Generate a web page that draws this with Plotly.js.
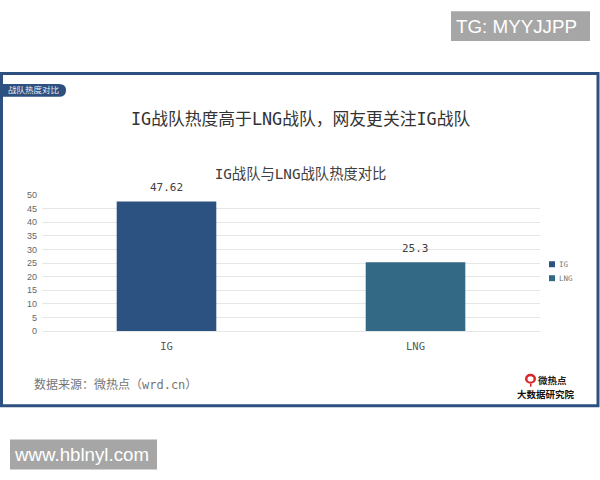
<!DOCTYPE html>
<html>
<head>
<meta charset="utf-8">
<script src="https://cdn.plot.ly/plotly-3.0.1.min.js"></script>
<style>html,body{margin:0;padding:0;background:#fff}</style>
</head>
<body>
<div id="chart" style="width:600px;height:480px"></div>
<script>
const categories = ["IG", "LNG"];
const values = [47.62, 25.3];
const valueLabels = ["47.62", "25.3"];
const barColors = ["#2c5282", "#336985"];
const yTicks = [0, 5, 10, 15, 20, 25, 30, 35, 40, 45, 50];
const chartTitle = "IG战队与LNG战队热度对比";
const headline = "IG战队热度高于LNG战队，网友更关注IG战队";
const tagText = "战队热度对比";
const sourceText = "数据来源：微热点（wrd.cn）";
const logoLines = ["微热点", "大数据研究院"];
const watermarks = ["TG: MYYJJPP", "www.hblnyl.com"];

const W = 600, H = 480;
const m = {l: 42, r: 60, t: 194.5, b: 149};
const px = x => (x - m.l) / (W - m.l - m.r);
const py = y => 1 - (y - m.t) / (H - m.t - m.b);
const FONT = '"DejaVu Sans Mono","Noto Sans CJK SC",monospace';
const FRAME = "#2d5080";

const rect = (x0, y0, x1, y1, fill, extra) => Object.assign({
  type: "rect", xref: "paper", yref: "paper",
  x0: px(x0), x1: px(x1), y0: py(y0), y1: py(y1),
  fillcolor: fill, line: {width: 0}, layer: "below"
}, extra || {});

const label = (x, y, text, size, color, anchor, family, weight) => ({
  xref: "paper", yref: "paper", x: px(x), y: py(y), text: text,
  showarrow: false, xanchor: anchor || "center", yanchor: "middle", borderpad: 0,
  font: {family: family || FONT, size: size, color: color, weight: weight || 400}
});

const traces = categories.map((c, i) => ({
  type: "bar", name: c, x: [c], y: [values[i]], width: 0.4,
  marker: {color: barColors[i]}, hoverinfo: "x+y"
}));

const shapes = [
  rect(1.5, 72.5, 598, 406, "rgba(0,0,0,0)", {line: {color: FRAME, width: 3}}),
  {type: "path", xref: "paper", yref: "paper", layer: "above", fillcolor: FRAME, line: {width: 0},
   path: `M ${px(3)} ${py(83)} L ${px(59)} ${py(83)} Q ${px(66)} ${py(83)} ${px(66)} ${py(89.5)} Q ${px(66)} ${py(96)} ${px(59)} ${py(96)} L ${px(3)} ${py(96)} Z`},
  rect(549, 261, 555, 267, barColors[0], {layer: "above"}),
  rect(549, 275, 555, 281, barColors[1], {layer: "above"}),
  rect(451, 10, 590, 40, "#a6a6a6"),
  rect(10, 440, 157, 470, "#a6a6a6"),
  {type: "circle", xref: "paper", yref: "paper", layer: "above", fillcolor: "#d9252a", line: {width: 0},
   x0: px(525), x1: px(536), y0: py(374), y1: py(384)},
  {type: "circle", xref: "paper", yref: "paper", layer: "above", fillcolor: "#ffffff", line: {width: 0},
   x0: px(527.5), x1: px(533.5), y0: py(376.5), y1: py(382)},
  rect(530, 384, 531.5, 387, "#d9252a", {layer: "above"})
];

const CJK = '"Noto Sans CJK SC"';
const SANS = '"Liberation Sans"';
const annotations = [
  label(300, 118, headline, 16.8, "#333333"),
  label(7, 89.5, tagText, 8.5, "#e8eef5", "left"),
  label(33, 385, sourceText, 12, "#757575", "left"),
  label(558, 264, categories[0], 7.5, "#777777", "left"),
  label(558, 278, categories[1], 7.5, "#777777", "left"),
  label(552, 380, logoLines[0], 9.5, "#222222", "center", CJK, 700),
  label(546, 394, logoLines[1], 9.5, "#111111", "center", CJK, 700),
  label(516, 25, watermarks[0], 18.8, "#ffffff", "center", SANS),
  label(81, 455, watermarks[1], 18.7, "#ffffff", "center", SANS)
].concat(categories.map((c, i) => ({
  xref: "x", yref: "y", x: c, y: values[i], text: valueLabels[i],
  showarrow: false, yanchor: "bottom", yshift: 5,
  font: {family: FONT, size: 11, color: "#404040"}
})));

const layout = {
  width: W, height: H,
  paper_bgcolor: "#ffffff", plot_bgcolor: "#ffffff",
  margin: m, showlegend: false, barmode: "overlay", bargap: 0.6,
  font: {family: FONT},
  title: {text: chartTitle, font: {family: FONT, size: 14.3, color: "#404040"},
          x: 300.5 / W, xanchor: "center", xref: "container", y: 1 - 174 / H, yanchor: "middle"},
  xaxis: {type: "category", categoryorder: "array", categoryarray: categories,
          showline: false, showgrid: false, zeroline: false, ticks: "",
          tickfont: {family: FONT, size: 10.5, color: "#595959"}, ticklabelstandoff: 7},
  yaxis: {range: [0, 50], tickmode: "array", tickvals: yTicks, ticktext: yTicks.map(String),
          showgrid: true, gridcolor: "#e6e6e6", gridwidth: 1, zeroline: true, zerolinecolor: "#e6e6e6",
          showline: false, ticks: "", tickfont: {family: SANS, size: 9, color: "#666666"},
          ticklabelstandoff: 4},
  shapes: shapes,
  annotations: annotations
};
Plotly.newPlot("chart", traces, layout, {displayModeBar: false, responsive: false});
</script>
</body>
</html>
